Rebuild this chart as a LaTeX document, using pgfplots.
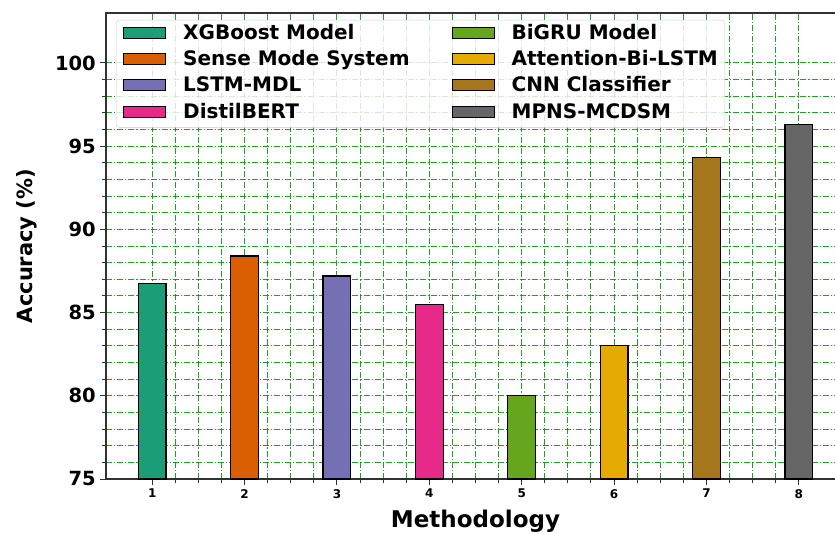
\documentclass[border=0pt]{standalone}
\usepackage{pgfplots}
\pgfplotsset{compat=1.18}
\usepackage{fontspec}
\setmainfont{DejaVu Sans}
\definecolor{c1}{HTML}{1B9E77}
\definecolor{c2}{HTML}{D95F02}
\definecolor{c3}{HTML}{7570B3}
\definecolor{c4}{HTML}{E7298A}
\definecolor{c5}{HTML}{66A61E}
\definecolor{c6}{HTML}{E6AB02}
\definecolor{c7}{HTML}{A6761D}
\definecolor{c8}{HTML}{666666}
\definecolor{gridgreen}{RGB}{10,150,10}
\definecolor{spine}{RGB}{50,50,50}
\begin{document}
\begin{tikzpicture}
\begin{axis}[
  at={(0,0)}, anchor=south west,
  scale only axis, width=739pt, height=466pt,
  xmin=0.5, xmax=8.5, ymin=75, ymax=103,
  xtick={1,2,3,4,5,6,7,8},
  ytick={75,80,85,90,95,100},
  minor x tick num=3, minor y tick num=4,
  tick pos=left, tick align=outside,
  major tick length=6pt, minor tick length=4pt,
  every tick/.style={spine, line width=1pt},
  axis line style={spine, line width=1.2pt},
  grid=both,
  major grid style={gridgreen, opacity=0.9, line width=1pt, dash pattern=on 6pt off 2pt on 1.2pt off 2pt},
  minor grid style={gridgreen, opacity=0.9, line width=1pt, dash pattern=on 6pt off 2pt on 1.2pt off 2pt},
  /pgf/number format/assume math mode=true,
  yticklabel style={font=\fontsize{19.5}{24}\selectfont\bfseries, inner sep=0pt, xshift=-4pt},
  xticklabel style={font=\fontsize{12}{14}\selectfont\bfseries, inner sep=0pt, yshift=-4pt},
  xlabel={Methodology}, ylabel={Accuracy (\%)},
  x label style={font=\fontsize{23}{26}\selectfont\bfseries, at={(axis description cs:0.5,0)}, anchor=base, yshift=-48pt},
  y label style={font=\fontsize{21}{24}\selectfont\bfseries, at={(axis description cs:-0.0988,0.5)}, anchor=base},
  legend columns=2,
  legend style={at={(axis description cs:0,1)}, anchor=north west, xshift=10pt, yshift=-7pt,
    fill=white, fill opacity=0.8, text opacity=1, draw=gray!40, rounded corners=3pt,
    font=\fontsize{20}{22}\selectfont\bfseries,
    nodes={inner sep=0pt, text height=14pt, text depth=4pt, anchor=base west},
    inner xsep=7pt, inner ysep=5pt, row sep=8.4pt,
    /tikz/every even column/.append style={column sep=42pt},
    /tikz/every odd column/.append style={column sep=17pt}},
  legend cell align=left,
  legend image code/.code={\draw[#1, sharp corners, fill opacity=1, draw opacity=1, line width=1pt] (0pt,1pt) rectangle (42pt,12pt);},
]
\addplot[ybar, bar width=0.3, bar shift=0pt, fill=c1, draw=black, line width=1.2pt] coordinates {(1,86.75)};
\addlegendentry{XGBoost Model}
\addplot[ybar, bar width=0.3, bar shift=0pt, fill=c5, draw=black, line width=1.2pt] coordinates {(5,80.0)};
\addlegendentry{BiGRU Model}
\addplot[ybar, bar width=0.3, bar shift=0pt, fill=c2, draw=black, line width=1.2pt] coordinates {(2,88.4)};
\addlegendentry{Sense Mode System}
\addplot[ybar, bar width=0.3, bar shift=0pt, fill=c6, draw=black, line width=1.2pt] coordinates {(6,83.0)};
\addlegendentry{Attention-Bi-LSTM}
\addplot[ybar, bar width=0.3, bar shift=0pt, fill=c3, draw=black, line width=1.2pt] coordinates {(3,87.2)};
\addlegendentry{LSTM-MDL}
\addplot[ybar, bar width=0.3, bar shift=0pt, fill=c7, draw=black, line width=1.2pt] coordinates {(7,94.3)};
\addlegendentry{CNN Classifier}
\addplot[ybar, bar width=0.3, bar shift=0pt, fill=c4, draw=black, line width=1.2pt] coordinates {(4,85.5)};
\addlegendentry{DistilBERT}
\addplot[ybar, bar width=0.3, bar shift=0pt, fill=c8, draw=black, line width=1.2pt] coordinates {(8,96.3)};
\addlegendentry{MPNS-MCDSM}
\end{axis}
\pgfresetboundingbox
\path[use as bounding box] (-106pt,-54pt) rectangle (729pt,479pt);
\end{tikzpicture}
\end{document}
